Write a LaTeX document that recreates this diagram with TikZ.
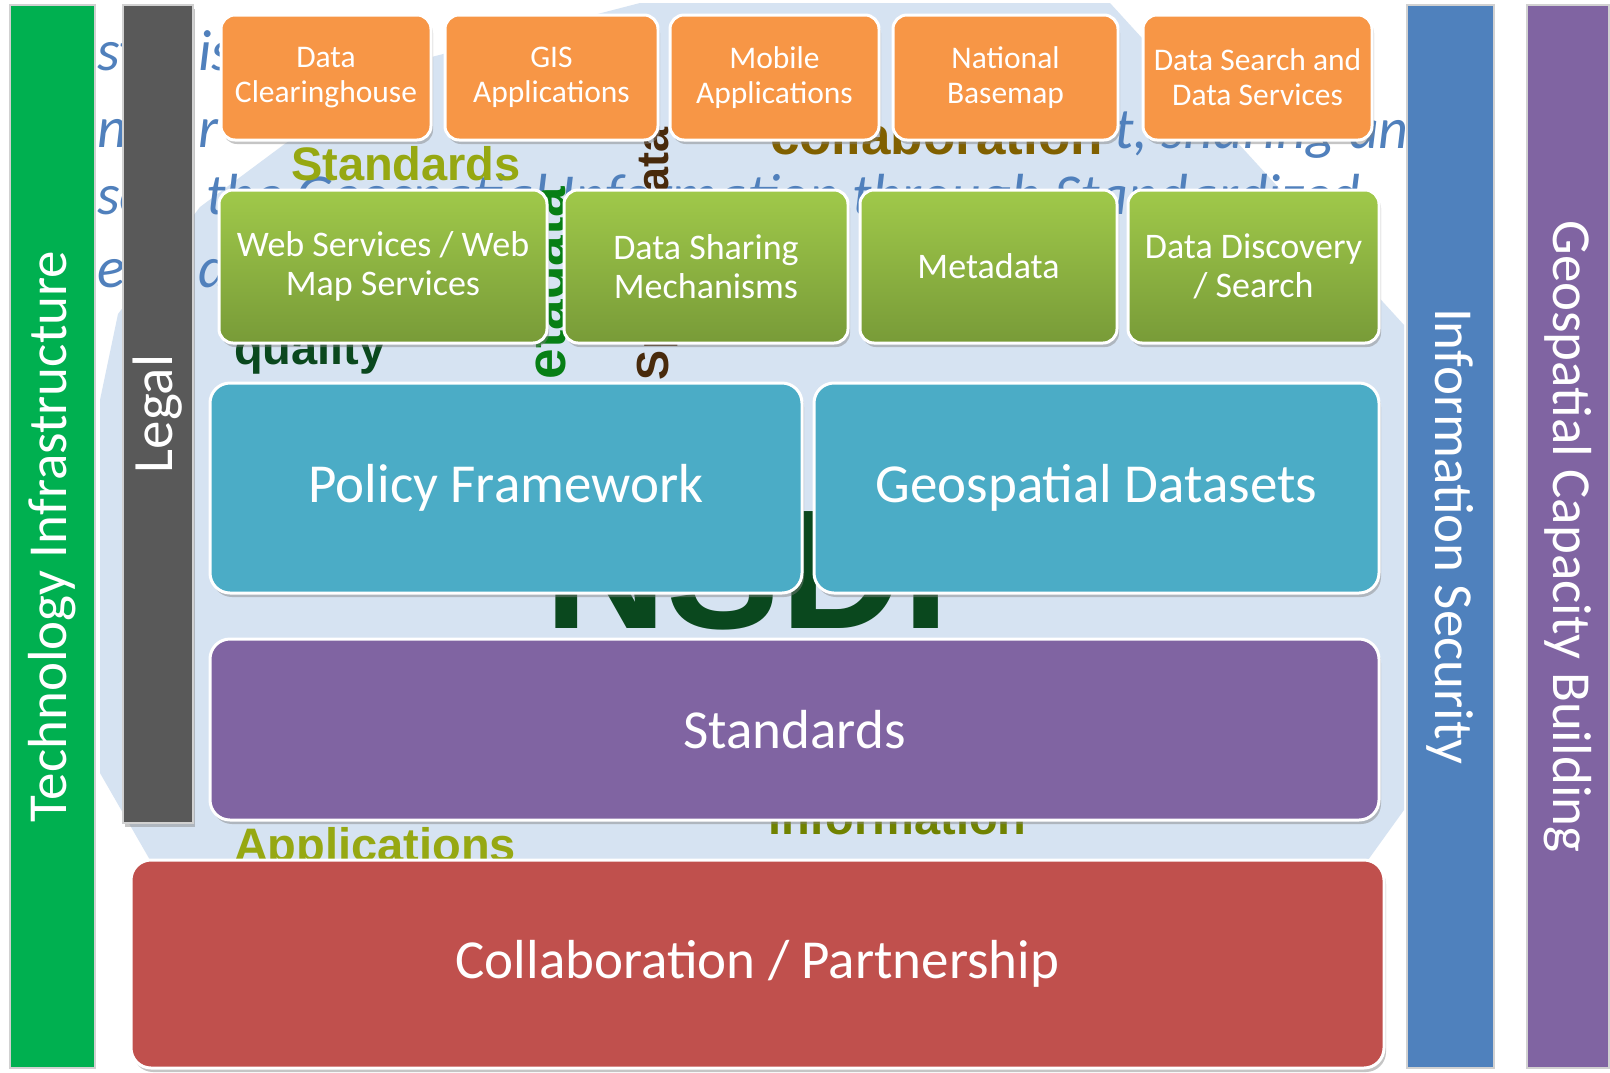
\documentclass[tikz,border=0pt]{standalone}
\usepackage{fontspec}
\setmainfont{Carlito}
\newfontfamily\cloudfont{Liberation Sans}
\usetikzlibrary{positioning,shadows}

\definecolor{techgreen}{RGB}{0,176,80}
\definecolor{legalgray}{RGB}{89,89,89}
\definecolor{apporange}{RGB}{247,150,70}
\definecolor{tooltop}{RGB}{160,201,74}
\definecolor{toolbottom}{RGB}{120,155,56}
\definecolor{coreblue}{RGB}{75,172,198}
\definecolor{stdpurple}{RGB}{128,100,162}
\definecolor{partnerred}{RGB}{192,80,77}
\definecolor{securityblue}{RGB}{79,129,189}
\definecolor{cloudbg}{RGB}{214,227,242}
\definecolor{cloudolive}{RGB}{150,168,18}
\definecolor{clouddark}{RGB}{10,72,30}
\definecolor{cloudbrown}{RGB}{128,96,0}
\definecolor{cloudearth}{RGB}{72,42,12}
\definecolor{cloudinfo}{RGB}{112,130,0}
\definecolor{phraseblue}{RGB}{80,128,188}

\begin{document}
\begin{tikzpicture}
[x=1pt, y=-1pt, node distance=12pt,
% STYLES
every node/.style={outer sep=0pt},
% The bar style is used for the pillars at the sides
bar/.style={rectangle, draw=white!82!black, line width=2pt, text=white, inner sep=0pt, minimum width=1063pt, font=\fontsize{55}{60}\selectfont},
% Define styles for each layer of boxes
layer/.style={rectangle, rounded corners=14pt, draw=white, line width=3pt, text=white, align=center, inner sep=2pt, drop shadow={shadow xshift=2pt, shadow yshift=-4pt, opacity=0.45}},
app/.style={layer, fill=apporange, minimum height=125pt, font=\fontsize{31.5}{35}\selectfont},
tool/.style={layer, top color=tooltop, bottom color=toolbottom, minimum height=153pt, font=\fontsize{36}{39}\selectfont},
core/.style={layer, rounded corners=20pt, minimum height=210pt, font=\fontsize{55}{60}\selectfont},
% word cloud behind the boxes
cloud/.style={inner sep=0pt, anchor=base west, font=\cloudfont\bfseries\fontsize{47}{50}\selectfont},
phrase/.style={inner sep=0pt, anchor=base west, text=phraseblue, font=\itshape\fontsize{58}{60}\selectfont}]

\useasboundingbox (0,0) rectangle (1610,1072);
\fill[white] (0,0) rectangle (1610,1072);

% Word cloud
\fill[cloudbg] (100,400) -- (118,314) -- (200,207) -- (286,143) -- (420,60) -- (640,3)
  -- (1110,3) -- (1404,325) -- (1404,810) -- (1368,860) -- (150,860) -- (100,773) -- cycle;

\node [phrase] (ph-st) at (97,70) {st};
\node [phrase] (ph-is) at (198,70) {is};
\node [phrase] (ph-nv) at (97,147) {nv};
\node [phrase] (ph-r) at (198,147) {r};
\node [phrase] (ph-sharing) at (1114,148) {t, sharing an};
\node [phrase] (ph-se) at (97,214) {se};
\node [phrase] (ph-geo) at (206,214) {the Geospatial Information through Standardized};
\node [phrase] (ph-e) at (97,287) {e};
\node [phrase] (ph-d) at (198,287) {d};

\node [cloud, text=cloudolive] (w-standards) at (291,180) {Standards};
\node [cloud, text=cloudbrown, font=\cloudfont\bfseries\fontsize{53}{56}\selectfont] (w-collab) at (770,154) {collaboration};
\node [cloud, text=clouddark] (w-quality) at (234,364) {quality};
\node [cloud, text=clouddark, font=\cloudfont\bfseries\fontsize{170}{170}\selectfont] (w-nsdi) at (544,628) {NSDI};
\node [cloud, text=cloudinfo] (w-info) at (768,834) {information};
\node [cloud, text=cloudolive] (w-apps) at (234,861) {Applications};
\node [cloud, text=clouddark!70!green, rotate=90, font=\cloudfont\bfseries\fontsize{55}{56}\selectfont] (w-meta) at (565,425) {Metadata};
\node [cloud, text=cloudearth, rotate=90, font=\cloudfont\bfseries\fontsize{45}{50}\selectfont] (w-spatial) at (668,380) {Spatial data};

% Side bars
\node [bar, fill=techgreen, minimum height=85pt, rotate=90] (tech) at (52.5,536.5) {Technology Infrastructure};
\node [bar, fill=legalgray, minimum width=818pt, minimum height=70pt, rotate=90, font=\fontsize{57}{60}\selectfont, drop shadow={shadow xshift=2pt, shadow yshift=-4pt, opacity=0.45}] (legal) at (158,414) {Legal};
\node [bar, fill=securityblue, minimum height=87pt, rotate=-90] (security) at (1450.5,536.5) {Information Security};
\node [bar, fill=stdpurple, minimum height=82pt, rotate=-90] (capacity) at (1568,536.5) {Geospatial Capacity Building};

% Applications
\node [app, minimum width=210pt] (clearinghouse) at (326,77.5) {Data\\Clearinghouse};
\node [app, right=14pt of clearinghouse, minimum width=213pt] (gis) {GIS\\Applications};
\node [app, right=12pt of gis, minimum width=209pt] (mobile) {Mobile\\Applications};
\node [app, right=14pt of mobile, minimum width=225pt] (basemap) {National\\Basemap};
\node [app, right=25pt of basemap, minimum width=229pt] (search) {Data Search and\\Data Services};

% Tools
\node [tool, minimum width=328pt] (webservices) at (383,266.5) {Web Services / Web\\Map Services};
\node [tool, right=17pt of webservices, minimum width=284pt] (sharing) {Data Sharing\\Mechanisms};
\node [tool, right=12pt of sharing, minimum width=257pt] (metadata) {Metadata};
\node [tool, right=11pt of metadata, minimum width=251pt] (discovery) {Data Discovery\\/ Search};

% Core
\node [core, fill=coreblue, minimum width=592pt] (policy) at (506,488) {Policy Framework};
\node [core, fill=coreblue, right=12pt of policy, minimum width=565pt] (datasets) {Geospatial Datasets};
\node [core, fill=stdpurple, minimum width=1169pt, minimum height=181pt] (standards) at (794.5,729.5) {Standards};
\node [core, fill=partnerred, minimum width=1253pt, minimum height=208pt] (partnership) at (757.5,964) {Collaboration / Partnership};

\end{tikzpicture}
\end{document}
